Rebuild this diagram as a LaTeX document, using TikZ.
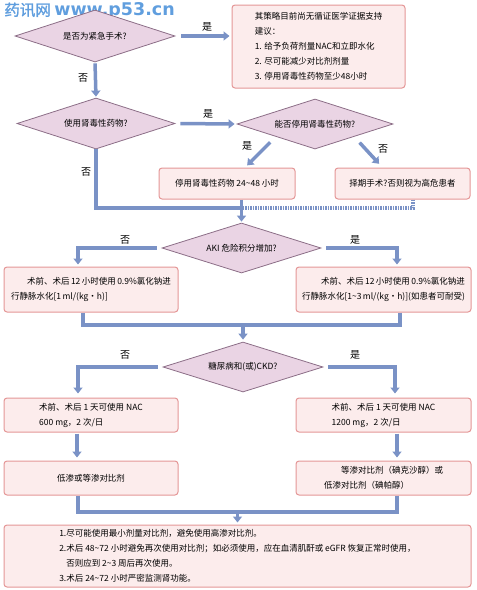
\documentclass[tikz,border=0pt]{standalone}
\usepackage{fontspec}
\setmainfont{Noto Sans CJK SC}
\newfontfamily\markcjk[FakeBold=1.5]{Noto Sans CJK SC}
\newfontfamily\marklatin{DejaVu Sans}
\usepackage{tikz}
\usetikzlibrary{positioning,shapes,fit,arrows,arrows.meta}
\tikzset{every picture/.style={line width=0.75pt}}
\definecolor{flowblue}{RGB}{122,146,198}
\definecolor{boxfill}{RGB}{252,236,236}
\definecolor{boxline}{RGB}{228,150,150}
\definecolor{dmdfill}{RGB}{234,212,228}
\definecolor{dmdline}{RGB}{140,110,135}
\definecolor{markblue}{RGB}{96,158,222}
\newcommand{\tld}{\textasciitilde}
\tikzset{
  question/.style={diamond, draw=dmdline, fill=dmdfill, line width=0.8pt, inner sep=0pt, aspect=3, font=\fontsize{8.5}{10}\selectfont},
  stepbox/.style={draw=boxline, fill=boxfill, rounded corners=3pt, line width=1pt, inner sep=0pt, font=\fontsize{8.5}{15}\selectfont},
  flow/.style={draw=flowblue, line width=3.5pt, -{Triangle[width=9pt,length=6pt]}},
  flowline/.style={draw=flowblue, line width=3.5pt},
  flowdash/.style={draw=flowblue, line width=3.5pt, dash pattern=on 1.5pt off 1pt},
  answer/.style={inner sep=0pt, font=\fontsize{10}{12}\selectfont}
}

\begin{document}
\begin{tikzpicture}[x=1pt,y=1pt,yscale=-1,xscale=1]
\useasboundingbox (0,0) rectangle (477,590);

% Text Node
\node[anchor=west, inner sep=0pt, text=markblue] (mark) at (4,11) {\fontsize{15.5}{15}\selectfont\markcjk 药讯网\ \fontsize{17.5}{15}\selectfont\marklatin\bfseries www.p53.cn};

%Shape: Diamond
\node[question, minimum width=160pt, minimum height=52pt] (d1) at (95,36) {是否为紧急手术?};
\node[question, minimum width=158pt, minimum height=51pt] (d2) at (96,123.5) {使用肾毒性药物?};
\node[question, minimum width=156pt, minimum height=50pt] (d3) at (315,124) {能否停用肾毒性药物?};
\node[question, minimum width=159pt, minimum height=50pt] (d4) at (241.5,248) {AKI 危险积分增加?};
\node[question, minimum width=160pt, minimum height=50pt] (d5) at (243,367) {糖尿病和(或)CKD?};

%Shape: Rectangle
\node[stepbox, minimum width=173pt, minimum height=83pt, align=left] (b1) at (318.5,46.5) {其策略目前尚无循证医学证据支持\\建议：\\1. 给予负荷剂量NAC和立即水化\\2. 尽可能减少对比剂剂量\\3. 停用肾毒性药物至少48小时};
\node[stepbox, minimum width=136pt, minimum height=31pt] (b2) at (227,183.5) {停用肾毒性药物 24\tld48 小时};
\node[stepbox, minimum width=135pt, minimum height=31pt] (b3) at (402.5,183.5) {择期手术?否则视为高危患者};
\node[stepbox, minimum width=174pt, minimum height=45pt, align=left] (b4) at (91,289.5) {\hspace*{16pt}术前、术后\,12\,小时使用\,0.9\%氯化钠进\\行静脉水化[1\,ml/(kg·h)]};
\node[stepbox, minimum width=175pt, minimum height=45pt, align=right] (b5) at (383.5,289.5) {术前、术后\,12\,小时使用\,0.9\%氯化钠进\\行静脉水化[1\tld3\,ml/(kg·h)](如患者可耐受)};
\node[stepbox, minimum width=174pt, minimum height=34pt, align=left] (b6) at (91,415) {术前、术后 1 天可使用 NAC\\600 mg，2 次/日};
\node[stepbox, minimum width=175pt, minimum height=34pt, align=left] (b7) at (383.5,415) {术前、术后 1 天可使用 NAC\\1200 mg，2 次/日};
\node[stepbox, minimum width=174pt, minimum height=34pt] (b8) at (91,478) {低渗或等渗对比剂};
\node[stepbox, minimum width=175pt, minimum height=34pt, align=left] (b9) at (383.5,478) {\hspace*{17pt}等渗对比剂（碘克沙醇）或\\低渗对比剂（碘帕醇）};
\node[stepbox, minimum width=467pt, minimum height=62pt, align=left] (b10) at (237.5,556) {1.尽可能使用最小剂量对比剂，避免使用高渗对比剂。\\2.术后 48\tld72 小时避免再次使用对比剂；如必须使用，应在血清肌酐或 eGFR 恢复正常时使用，\\\hspace*{7pt}否则应到 2\tld3 周后再次使用。\\3.术后 24\tld72 小时严密监测肾功能。};

%Straight Lines
\draw[flow, shorten <=6pt, shorten >=2pt] (d1.east) -- (d1.east -| b1.west);
\draw[flow, shorten <=1pt, shorten >=1pt] (d1.south) -- (d2.north);
\draw[flow, shorten <=5pt, shorten >=2pt] (d2.east) -- (d3.west);
\draw[flow, shorten <=8pt, shorten >=3pt] (d3.south west) -- ([xshift=18pt]b2.north);
\draw[flow, shorten <=8pt, shorten >=5pt] (d3.south east) -- ([xshift=-20pt]b3.north);
\coordinate (j1) at (241.5,208);
\draw[flowline] (d2.south) |- (j1);
\draw[flowdash] ([xshift=10.5pt]b3.south) |- (j1);
\draw[flow, shorten >=1pt] (b2.south -| j1) -- (d4.north);

\draw[flow, shorten <=5pt, shorten >=2pt] (d4.west) -| ([xshift=-13pt]b4.north);
\draw[flow, shorten <=5pt, shorten >=2pt] (d4.east) -| ([xshift=13.5pt]b5.north);
\coordinate (j2) at (243,325);
\draw[flowline] ([xshift=-8pt]b4.south) |- (j2);
\draw[flowline] ([xshift=16.5pt]b5.south) |- (j2);
\draw[flow, shorten >=2pt] (j2) -- (d5.north);

\draw[flow, shorten <=5pt, shorten >=4pt] (d5.west) -| ([xshift=-13pt]b6.north);
\draw[flow, shorten <=5pt, shorten >=4pt] (d5.east) -| ([xshift=11.5pt]b7.north);
\draw[flow, shorten <=1pt, shorten >=3pt] ([xshift=-14pt]b6.south) -- ([xshift=-14pt]b8.north);
\draw[flow, shorten <=1pt, shorten >=3pt] ([xshift=13.5pt]b7.south) -- ([xshift=13.5pt]b9.north);
\coordinate (j3) at (237.5,512);
\draw[flowline] ([xshift=-13pt]b8.south) |- (j3);
\draw[flowline] ([xshift=13.5pt]b9.south) |- (j3);
\draw[flow, shorten >=2pt] (j3) -- (b10.north);

% Text Node
\node[answer] (no1) at (83,78) {否};
\node[answer] (yes1) at (207,27) {是};
\node[answer] (yes2) at (208,114) {是};
\node[answer] (no2) at (86,172) {否};
\node[answer] (yes3) at (247,146) {是};
\node[answer] (no3) at (383,149) {否};
\node[answer] (no4) at (125,240) {否};
\node[answer] (yes4) at (355,240) {是};
\node[answer] (no5) at (125,355) {否};
\node[answer] (yes5) at (355,355) {是};
\end{tikzpicture}
\end{document}
